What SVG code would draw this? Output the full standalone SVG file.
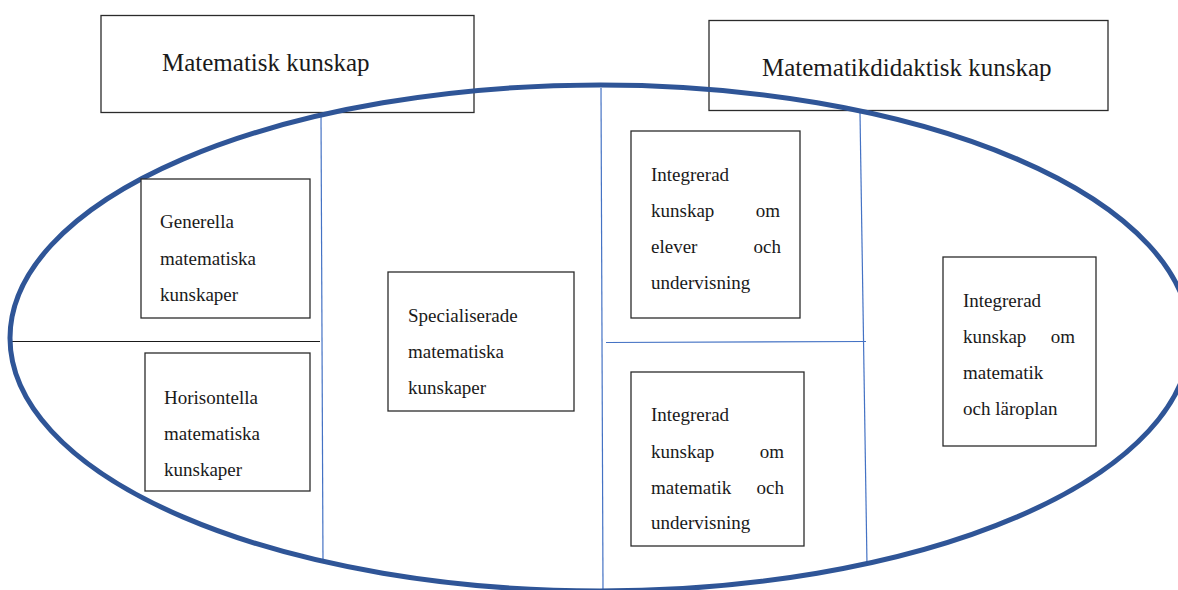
<svg xmlns="http://www.w3.org/2000/svg" width="1178" height="590" viewBox="0 0 1178 590">
<style>
.box{fill:#fff;stroke:#2b2b2b;stroke-width:1.3}
.tbox{fill:none;stroke:#2b2b2b;stroke-width:1.3}
.t{font-family:"Liberation Serif","DejaVu Serif",serif;font-size:19px;fill:#1a1a1a}
.h{font-family:"Liberation Serif","DejaVu Serif",serif;font-size:25px;fill:#1a1a1a}
.e{text-anchor:end}
.bl{stroke:#4472C4;stroke-width:1.2;fill:none}
</style>
<rect width="1178" height="590" fill="#fff"/>
<g id="title-matematisk">
<rect class="tbox" x="101" y="15.5" width="373" height="97"/>
<text class="h" x="162" y="71">Matematisk kunskap</text>
</g>
<g id="title-didaktisk">
<rect class="tbox" x="709" y="20.5" width="399" height="90"/>
<text class="h" x="762" y="76">Matematikdidaktisk kunskap</text>
</g>
<g id="connectors">
<line class="bl" x1="321" y1="114" x2="323" y2="563"/>
<line x1="12" y1="341.5" x2="320" y2="341.5" stroke="#1a1a1a" stroke-width="1.2"/>
<line class="bl" x1="601" y1="88" x2="603" y2="590"/>
<line class="bl" x1="606" y1="342.5" x2="866" y2="341.5"/>
<line class="bl" x1="860" y1="113" x2="867" y2="565"/>
</g>
<g id="ellipse">
<ellipse cx="600" cy="338" rx="590" ry="253" fill="none" stroke="#2F5597" stroke-width="5"/>
</g>
<g id="generella">
<rect class="box" x="141" y="179" width="169" height="139"/>
<text class="t" x="160" y="228">Generella</text>
<text class="t" x="160" y="265">matematiska</text>
<text class="t" x="160" y="301">kunskaper</text>
</g>
<g id="horisontella">
<rect class="box" x="145" y="353" width="165" height="138"/>
<text class="t" x="164" y="404">Horisontella</text>
<text class="t" x="164" y="440">matematiska</text>
<text class="t" x="164" y="476">kunskaper</text>
</g>
<g id="specialiserade">
<rect class="box" x="388" y="272" width="186" height="139"/>
<text class="t" x="408" y="322">Specialiserade</text>
<text class="t" x="408" y="358">matematiska</text>
<text class="t" x="408" y="394">kunskaper</text>
</g>
<g id="integrerad-elever">
<rect class="box" x="631" y="131" width="169" height="187"/>
<text class="t" x="651" y="181">Integrerad</text>
<text class="t" x="651" y="217">kunskap</text><text class="t e" x="780" y="217">om</text>
<text class="t" x="651" y="253">elever</text><text class="t e" x="781" y="253">och</text>
<text class="t" x="651" y="289">undervisning</text>
</g>
<g id="integrerad-matematik">
<rect class="box" x="631" y="372" width="173" height="174"/>
<text class="t" x="651" y="421">Integrerad</text>
<text class="t" x="651" y="458">kunskap</text><text class="t e" x="784" y="458">om</text>
<text class="t" x="651" y="494">matematik</text><text class="t e" x="784" y="494">och</text>
<text class="t" x="651" y="529">undervisning</text>
</g>
<g id="integrerad-laroplan">
<rect class="box" x="943" y="257" width="153" height="189"/>
<text class="t" x="963" y="307">Integrerad</text>
<text class="t" x="963" y="343">kunskap</text><text class="t e" x="1075" y="343">om</text>
<text class="t" x="963" y="379">matematik</text>
<text class="t" x="963" y="415">och läroplan</text>
</g>
</svg>
